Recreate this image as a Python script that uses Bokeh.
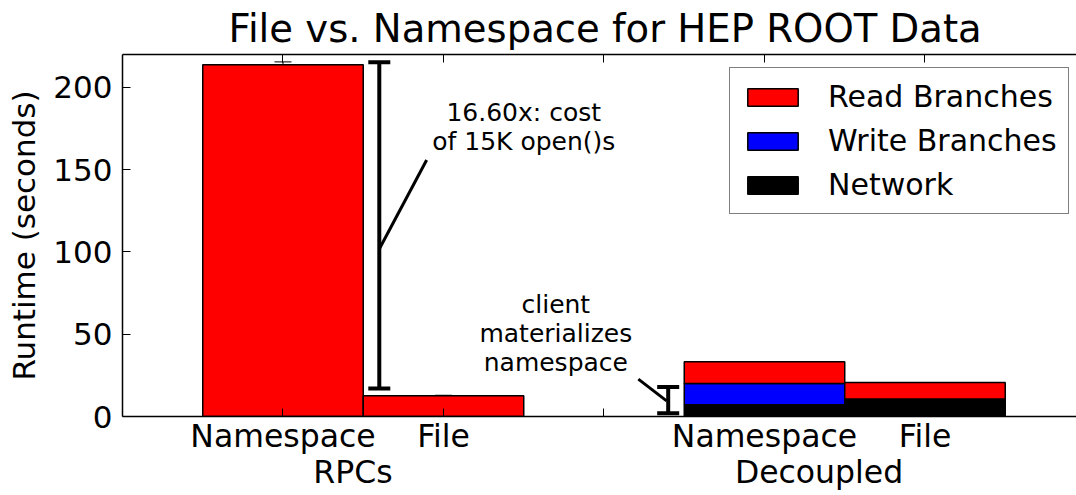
from bokeh.plotting import figure
from bokeh.models import (Range1d, FixedTicker, LinearAxis, Whisker, TeeHead,
                          ColumnDataSource, Legend, LegendItem, AllLabels)
from bokeh.core.properties import value
from bokeh.embed import file_html
from bokeh.resources import INLINE

# ---- data ----
groups = ["RPCs", "RPCs", "Decoupled", "Decoupled"]
conditions = ["Namespace", "File", "Namespace", "File"]
read_branches = [213.7, 12.6, 13.1, 10.1]
write_branches = [0.0, 0.0, 13.0, 0.0]
network = [0.0, 0.0, 7.1, 10.6]
read_err = [1.8, 0.3, 0.0, 0.0]
network_err = [0.0, 0.0, 0.3, 0.3]
series_names = ["Read Branches", "Write Branches", "Network"]
series_colors = ["#ff0000", "#0000ff", "#000000"]
y_ticks = [0, 50, 100, 150, 200]

# annotations
ann_big_text = "16.60x: cost\nof 15K open()s"
ann_big_range = [17.0, 215.3]
ann_small_text = "client\nmaterializes\nnamespace"
ann_small_range = [2.0, 18.0]

FONT = "DejaVu Sans"

# slot positions: one empty slot between groups
group_order = ["RPCs", "Decoupled"]
group_label_pos = [0.436, 3.34]
xs = [float(i + group_order.index(g)) for i, g in enumerate(groups)]
all_slots = list(range(int(max(xs)) + 1))

tick_labels = {int(x): c for x, c in zip(xs, conditions)}
for gp, g in zip(group_label_pos, group_order):
    tick_labels[gp] = "\n" + g
label_ticks = sorted(tick_labels.keys())

totals = [r + w + n for r, w, n in zip(read_branches, write_branches, network)]

src = ColumnDataSource(dict(x=xs, read=read_branches, write=write_branches, net=network))

p = figure(width=1076, height=495, output_backend="svg", toolbar_location=None,
           x_range=Range1d(-1, 4.944), y_range=Range1d(0, 220),
           min_border_left=122, min_border_right=0, min_border_top=0, min_border_bottom=79,
           title="File vs. Namespace for HEP ROOT Data")
p.title.text_font = FONT
p.title.text_font_size = "38.6px"
p.title.text_font_style = "normal"
p.title.text_color = "black"
p.title.align = "left"
p.title.offset = 106
p.title.standoff = 7
p.grid.visible = False
p.outline_line_color = None
p.background_fill_color = "white"
p.border_fill_color = "white"

rs = p.vbar_stack(["net", "write", "read"], x="x", width=1.0, source=src,
                  fill_color=[series_colors[2], series_colors[1], series_colors[0]],
                  line_color="black", line_width=1.5)
r_net, r_write, r_read = rs

# error bars
e_base, e_up, e_lo = [], [], []
for x, t, e in zip(xs, totals, read_err):
    if e > 0:
        e_base.append(x); e_up.append(t + e); e_lo.append(t - e)
for x, n, e in zip(xs, network, network_err):
    if e > 0:
        e_base.append(x); e_up.append(n + e); e_lo.append(n - e)
esrc = ColumnDataSource(dict(base=e_base, upper=e_up, lower=e_lo))
p.add_layout(Whisker(source=esrc, base="base", upper="upper", lower="lower",
                     dimension="height", line_color="black", line_width=1,
                     upper_head=TeeHead(size=17, line_color="black", line_width=1),
                     lower_head=TeeHead(size=17, line_color="black", line_width=1)))

# annotation whiskers
asrc = ColumnDataSource(dict(base=[0.60, 2.40],
                             upper=[ann_big_range[1], ann_small_range[1]],
                             lower=[ann_big_range[0], ann_small_range[0]]))
p.add_layout(Whisker(source=asrc, base="base", upper="upper", lower="lower",
                     dimension="height", line_color="black", line_width=4,
                     upper_head=TeeHead(size=22, line_color="black", line_width=4),
                     lower_head=TeeHead(size=22, line_color="black", line_width=4)))

# pointer lines
p.segment(x0=[0.895, 2.214], y0=[155.9, 22.7], x1=[0.60, 2.39], y1=[101.8, 9.5],
          line_color="black", line_width=3)

p.text(x=[1.5, 1.70], y=[176, 50.3], text=[ann_big_text, ann_small_text],
       text_font=value(FONT), text_font_size="25px", text_align="center",
       text_baseline="middle", text_line_height=1.0, text_color="black")

# axes
xa = p.xaxis[0]
xa.ticker = FixedTicker(ticks=label_ticks, minor_ticks=all_slots)
xa.major_label_overrides = tick_labels
xa.major_label_policy = AllLabels()
xa.major_label_text_font = FONT
xa.major_label_text_font_size = "31.5px"
xa.major_label_text_line_height = 1.0
xa.major_label_text_color = "black"
xa.major_tick_in = 0
xa.major_tick_out = 0
xa.minor_tick_in = 8
xa.minor_tick_out = 0
xa.minor_tick_line_color = "black"
xa.axis_line_color = "black"
xa.axis_line_width = 1.5
xa.major_label_standoff = 1

ya = p.yaxis[0]
ya.ticker = FixedTicker(ticks=y_ticks)
ya.major_label_text_font = FONT
ya.major_label_text_font_size = "31px"
ya.major_label_text_color = "black"
ya.major_tick_in = 8
ya.major_tick_out = 0
ya.minor_tick_line_color = None
ya.major_tick_line_color = "black"
ya.axis_line_color = "black"
ya.axis_line_width = 1.5
ya.major_label_standoff = 10
ya.axis_label = "Runtime (seconds)"
ya.axis_label_text_font = FONT
ya.axis_label_text_font_size = "31px"
ya.axis_label_text_font_style = "normal"
ya.axis_label_text_color = "black"
ya.axis_label_standoff = 8

top = LinearAxis(ticker=FixedTicker(ticks=[], minor_ticks=all_slots),
                 major_tick_in=0, major_tick_out=0,
                 minor_tick_in=8, minor_tick_out=0, minor_tick_line_color="black",
                 axis_line_color="black", axis_line_width=1.5, major_label_standoff=0)
p.add_layout(top, "above")

legend = Legend(items=[LegendItem(label=series_names[0], renderers=[r_read]),
                       LegendItem(label=series_names[1], renderers=[r_write]),
                       LegendItem(label=series_names[2], renderers=[r_net])],
                location=(607, 202), glyph_width=63, glyph_height=22,
                label_text_font=FONT, label_text_font_size="30px",
                label_text_color="black",
                label_standoff=24, padding=11, spacing=9, margin=0,
                border_line_color="black", border_line_width=1.5,
                background_fill_alpha=1.0)
p.add_layout(legend)

open("out.html", "w").write(file_html(p, INLINE))
